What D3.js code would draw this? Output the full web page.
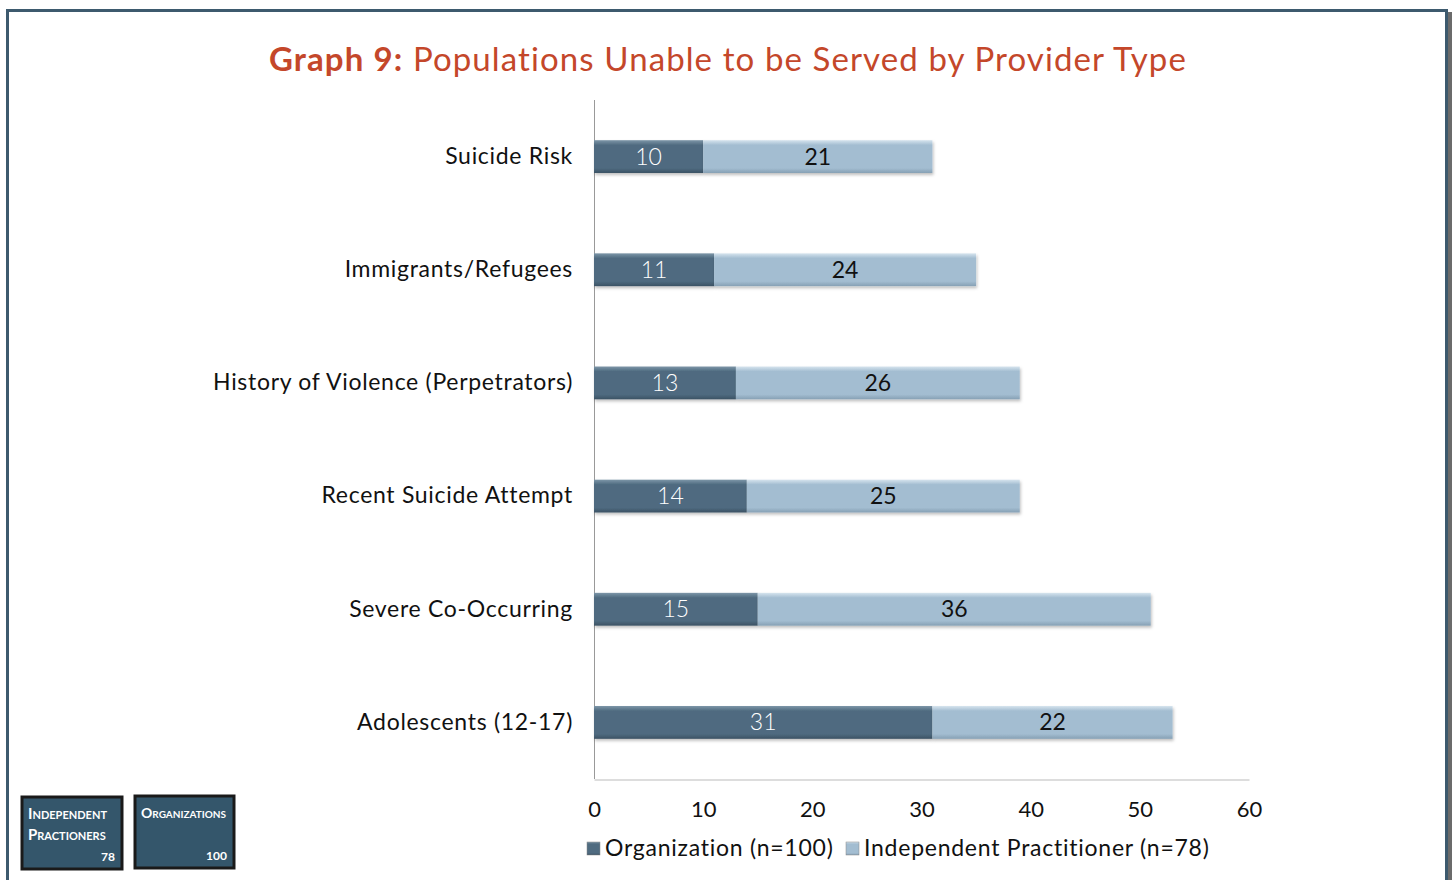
<!DOCTYPE html>
<html><head><meta charset="utf-8">
<script src="https://cdn.jsdelivr.net/npm/d3@7"></script>
<style>
html,body{margin:0;padding:0;background:#fff;}
svg{display:block;font-family:"Lato","Open Sans",sans-serif;}
</style></head>
<body>
<svg id="c" width="1452" height="880"></svg>
<script>
const categories = ["Suicide Risk","Immigrants/Refugees","History of Violence (Perpetrators)","Recent Suicide Attempt","Severe Co-Occurring","Adolescents (12-17)"];
const organization = [10,11,13,14,15,31];
const independent = [21,24,26,25,36,22];
const seriesNames = ["Organization (n=100)","Independent Practitioner (n=78)"];
const xTicks = [0,10,20,30,40,50,60];

const svg = d3.select("#c");
const defs = svg.append("defs");
function grad(id, top, mid, bot){
  const g = defs.append("linearGradient").attr("id",id).attr("x1",0).attr("y1",0).attr("x2",0).attr("y2",1);
  g.append("stop").attr("offset","0%").attr("stop-color",top);
  g.append("stop").attr("offset","15%").attr("stop-color",mid);
  g.append("stop").attr("offset","85%").attr("stop-color",mid);
  g.append("stop").attr("offset","100%").attr("stop-color",bot);
}
grad("gOrg","#7d96a8","#4f6b80","#3b5264");
grad("gInd","#d6e4ee","#a3bdd1","#86a0b4");
const f = defs.append("filter").attr("id","sh").attr("x","-5%").attr("y","-30%").attr("width","110%").attr("height","180%");
f.append("feDropShadow").attr("dx",1).attr("dy",2).attr("stdDeviation",1.5).attr("flood-color","#000").attr("flood-opacity",0.25);

// frame
svg.append("rect").attr("x",1446).attr("y",12).attr("width",6).attr("height",868).attr("fill","#6b6b6b");
svg.append("rect").attr("x",7.5).attr("y",10.5).attr("width",1439).attr("height",880).attr("fill","none").attr("stroke","#3d5a6e").attr("stroke-width",3);

// title
const t = svg.append("text").attr("x",728).attr("y",71).attr("text-anchor","middle").attr("font-size",33).attr("letter-spacing",1.1).attr("fill","#c4472a");
t.append("tspan").attr("font-weight","bold").text("Graph 9");
t.append("tspan").attr("font-weight","bold").text(":");
t.append("tspan").text(" Populations Unable to be Served by Provider Type");

const x = d3.scaleLinear().domain([0,60]).range([594,1249]);
const y = d3.scaleBand().domain(categories).range([100,779]).paddingInner(0.71).paddingOuter(0.355);

// axes
svg.append("line").attr("x1",594.5).attr("x2",594.5).attr("y1",100).attr("y2",779).attr("stroke","#999");
const xa = svg.append("g").attr("transform","translate(0,779.5)").call(d3.axisBottom(x).tickValues(xTicks).tickSize(0).tickPadding(22));
xa.select(".domain").attr("stroke","#bbb");
xa.selectAll("text").attr("font-size",22).attr("fill","#111").attr("font-family","Lato, sans-serif");

const ya = svg.append("g").attr("transform","translate(594,0)").call(d3.axisLeft(y).tickSize(0).tickPadding(21));
ya.select(".domain").remove();
ya.selectAll("text").attr("font-size",23).attr("letter-spacing",0.7).attr("fill","#111").attr("font-family","Lato, sans-serif");

// bars
const rows = categories.map((c,i)=>({c, o:organization[i], p:independent[i]}));
const g = svg.append("g");
g.selectAll(".ro").data(rows).join("rect").attr("class","ro")
  .attr("x",x(0)).attr("y",d=>y(d.c)).attr("width",d=>x(d.o)-x(0)).attr("height",y.bandwidth())
  .attr("fill","url(#gOrg)").attr("filter","url(#sh)");
g.selectAll(".rp").data(rows).join("rect").attr("class","rp")
  .attr("x",d=>x(d.o)).attr("y",d=>y(d.c)).attr("width",d=>x(d.o+d.p)-x(d.o)).attr("height",y.bandwidth())
  .attr("fill","url(#gInd)").attr("filter","url(#sh)");
g.selectAll(".lo").data(rows).join("text").attr("class","lo")
  .attr("x",d=>(x(0)+x(d.o))/2).attr("y",d=>y(d.c)+y.bandwidth()/2+8)
  .attr("text-anchor","middle").attr("font-size",23).attr("font-weight",300).attr("fill","#fff").text(d=>d.o);
g.selectAll(".lp").data(rows).join("text").attr("class","lp")
  .attr("x",d=>(x(d.o)+x(d.o+d.p))/2).attr("y",d=>y(d.c)+y.bandwidth()/2+8)
  .attr("text-anchor","middle").attr("font-size",23).attr("fill","#111").text(d=>d.p);

// legend
const leg = [{n:seriesNames[0],f:"url(#gOrg)",x:587},{n:seriesNames[1],f:"url(#gInd)",x:846}];
leg.forEach(l=>{
  svg.append("rect").attr("x",l.x).attr("y",842).attr("width",13).attr("height",13).attr("fill",l.f).attr("stroke","#888").attr("stroke-width",0.5);
  svg.append("text").attr("x",l.x+18).attr("y",856).attr("font-size",23).attr("letter-spacing",0.75).attr("fill","#111").text(l.n);
});

// info boxes
function box(bx,by,w,h,lines,num,fs,fs2){
  svg.append("rect").attr("x",bx).attr("y",by).attr("width",w).attr("height",h).attr("fill","#34566b").attr("stroke","#1a1a1a").attr("stroke-width",3);
  lines.forEach((ln,i)=>{
    const tx = svg.append("text").attr("x",bx+6).attr("y",by+22+i*21).attr("fill","#fff").attr("font-weight","bold").attr("font-family","Lato, sans-serif");
    tx.append("tspan").attr("font-size",fs).text(ln[0]);
    tx.append("tspan").attr("font-size",fs2).text(ln.slice(1).toUpperCase());
  });
  svg.append("text").attr("x",bx+w-7).attr("y",by+h-8).attr("text-anchor","end").attr("fill","#fff").attr("font-size",12).attr("font-weight","bold").text(num);
}
box(22,797,100,72,["Independent","Practioners"],"78",15,11);
box(135,796,99,72,["Organizations"],"100",14,10);
</script>
</body></html>
